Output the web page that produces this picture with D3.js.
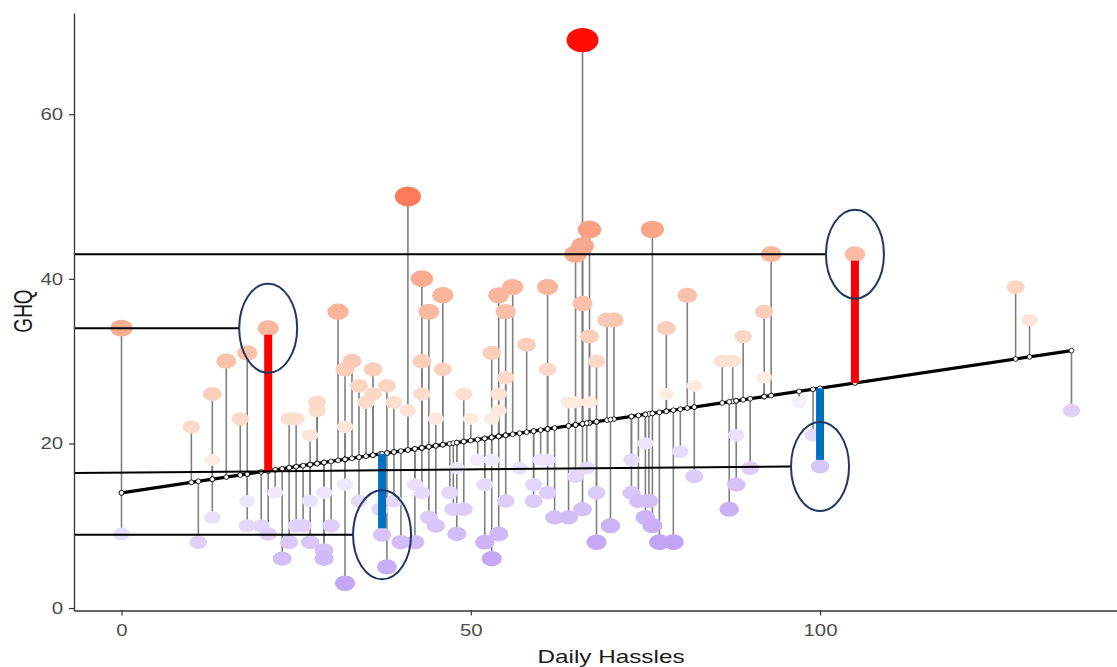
<!DOCTYPE html>
<html>
<head>
<meta charset="utf-8">
<script src="https://cdn.jsdelivr.net/npm/d3@7"></script>
<style>
  body { margin: 0; background: #fff; }
  text { font-family: "Liberation Sans", Arial, sans-serif; }
</style>
</head>
<body>
<svg id="chart" width="1117" height="667"></svg>
<script>
// Daily Hassles (x) and GHQ (y), one entry per person
const hassles = [
  0, 10, 13, 15, 17, 18, 21, 24, 25, 28, 28, 31,
  32, 33, 34, 35, 36, 36, 38, 39, 41, 41, 43, 43,
  43, 44, 46, 46, 49, 53, 54, 55, 56, 55, 54, 58,
  61, 61, 65, 66, 67, 66, 66, 67, 68, 69.5, 70.5, 76,
  78, 81, 86, 87.5, 89, 92, 93, 105, 128, 130,
  13, 27, 32, 45, 50, 53, 54, 64, 65, 67, 78, 82, 92, 97,
  0, 11, 13, 18, 18, 20, 21, 22, 23, 24, 25, 26,
  27, 27, 29, 29, 29, 30, 32, 32, 34, 37, 37.3, 38,
  39, 40, 42, 42, 43, 44, 45, 47, 47.5, 48, 48, 49,
  51, 52, 52, 53, 53, 54, 55, 57, 59, 59, 60, 61,
  61, 62, 64, 65, 66, 66.6, 68, 68, 70, 73, 75, 73,
  74, 75.5, 75, 76, 77, 79, 80, 82, 87, 88, 88, 90,
  99, 100, 136
];
const ghq = [
  34, 22, 26, 30, 23, 31, 34, 23, 23, 25, 24, 36,
  29, 30, 27, 25, 29, 26, 27, 25, 24, 50, 40, 30,
  26, 36, 38, 29, 26, 31, 38, 36, 39, 28, 26, 32,
  39, 29, 43, 44, 46, 69, 37, 33, 30, 35, 35, 46,
  34, 38, 30, 30, 33, 36, 43, 43, 39, 35,
  18, 21, 22, 23, 23, 23, 24, 25, 25, 25, 26, 27, 28, 25,
  9, 8, 11, 13, 10, 10, 9, 14, 6, 8, 10, 10,
  13, 8, 14, 7, 6, 10, 15, 3, 13, 12, 8.9, 5,
  13, 8, 15, 8, 14, 11, 10, 14, 12, 9, 17, 12,
  18, 15, 8, 18, 6, 9, 13, 17, 15, 13, 18, 18,
  14, 11, 11, 16, 12, 17, 14, 8, 10, 18, 20, 14,
  13, 13, 11, 10, 8, 8, 19, 16, 12, 15, 21, 17,
  21, 17.2, 24
];
const xTicks = [0, 50, 100];
const yTicks = [0, 20, 40, 60];

// fitted regression line GHQ = a + b * hassles
const fitIntercept = 14.0;
const fitSlope = 0.127;

// the four residuals picked out with bars, circles and guide lines
const markHassles = [21, 37.3, 100, 105];
const markGhq = [34, 8.9, 17.2, 43];
const markGuideStart = [34, 8.9, 16.4, 43];

const svg = d3.select("#chart");
const x = d3.scaleLinear().domain([-6.8, 142.8]).range([74, 1119]);
const y = d3.scaleLinear().domain([-0.3, 72.3]).range([610.5, 13]);
const fitted = h => fitIntercept + fitSlope * h;

const pts = hassles.map((h, i) => ({ h: h, g: ghq[i], f: fitted(h), r: ghq[i] - fitted(h) }));

const posColor = d3.scaleLinear()
  .domain([0, 8, 22, 31, 47])
  .range(["#fdf5f1", "#fbd6c5", "#f8a78a", "#fb7a5a", "#ff0000"])
  .interpolate(d3.interpolateLab).clamp(true);
const negColor = d3.scaleLinear()
  .domain([0, 4, 9, 16])
  .range(["#faf8fe", "#ebe3fb", "#d9c9f8", "#c1a2f5"])
  .interpolate(d3.interpolateLab).clamp(true);
const colorOf = r => r >= 0 ? posColor(r) : negColor(-r);
const sizeOf = d3.scaleLinear().domain([0, 47]).range([7.5, 16]);

// residual segments
svg.append("g").selectAll("line")
  .data(pts)
  .join("line")
  .attr("x1", d => x(d.h)).attr("x2", d => x(d.h))
  .attr("y1", d => y(d.g)).attr("y2", d => y(d.f))
  .attr("stroke", "#808080")
  .attr("stroke-width", 1.6);

// observed points, weakest first
svg.append("g").selectAll("ellipse")
  .data(pts.slice().sort((a, b) => Math.abs(a.r) - Math.abs(b.r)))
  .join("ellipse")
  .attr("cx", d => x(d.h))
  .attr("cy", d => y(d.g))
  .attr("rx", d => sizeOf(Math.abs(d.r)))
  .attr("ry", d => sizeOf(Math.abs(d.r)) * 0.76)
  .attr("fill", d => colorOf(d.r));

// regression line
const hExtent = d3.extent(hassles);
svg.append("line")
  .attr("x1", x(hExtent[0])).attr("y1", y(fitted(hExtent[0])))
  .attr("x2", x(hExtent[1])).attr("y2", y(fitted(hExtent[1])))
  .attr("stroke", "#000")
  .attr("stroke-width", 3.2);

// fitted values
svg.append("g").selectAll("circle")
  .data(pts)
  .join("circle")
  .attr("cx", d => x(d.h))
  .attr("cy", d => y(d.f))
  .attr("r", 2.4)
  .attr("fill", "#fff")
  .attr("stroke", "#000")
  .attr("stroke-width", 0.8);

// highlighted residual bars
const marks = markHassles.map((h, i) => ({ h: h, g: markGhq[i], g0: markGuideStart[i], f: fitted(h) }));
svg.append("g").selectAll("line")
  .data(marks)
  .join("line")
  .attr("x1", d => x(d.h)).attr("x2", d => x(d.h))
  .attr("y1", d => y(d.f))
  .attr("y2", d => y(d.g - Math.sign(d.g - d.f) * 0.8))
  .attr("stroke", d => d.g > d.f ? "#ff0000" : "#0070c0")
  .attr("stroke-width", 8);

// guide lines from the y axis
svg.append("g").selectAll("line")
  .data(marks)
  .join("line")
  .attr("x1", x.range()[0]).attr("y1", d => y(d.g0))
  .attr("x2", d => x(d.h) - 29).attr("y2", d => y(d.g))
  .attr("stroke", "#000")
  .attr("stroke-width", 2);

svg.append("g").selectAll("ellipse")
  .data(marks)
  .join("ellipse")
  .attr("cx", d => x(d.h))
  .attr("cy", d => y(d.g))
  .attr("rx", 29)
  .attr("ry", 44.5)
  .attr("fill", "none")
  .attr("stroke", "#1f3864")
  .attr("stroke-width", 2);

// axes
const yAxis = svg.append("g")
  .attr("transform", "translate(74,0)")
  .call(d3.axisLeft(y).tickValues(yTicks).tickSize(5).tickSizeOuter(0).tickPadding(4));
const xAxis = svg.append("g")
  .attr("transform", "translate(0,610.5)")
  .call(d3.axisBottom(x).tickValues(xTicks).tickSize(5).tickSizeOuter(0).tickPadding(8));

[xAxis, yAxis].forEach(ax => {
  ax.select(".domain").attr("stroke", "#333").attr("stroke-width", 1.3);
  ax.selectAll(".tick line").attr("stroke", "#333").attr("stroke-width", 1.2);
  ax.selectAll(".tick text")
    .attr("fill", "#4d4d4d")
    .style("font-size", "17px")
    .style("font-family", "'Liberation Sans', Arial, sans-serif")
    .attr("transform", "scale(1.2,1)");
});

svg.append("text")
  .attr("transform", "translate(611,663) scale(1.35,1)")
  .attr("text-anchor", "middle")
  .attr("fill", "#1a1a1a")
  .style("font-size", "18px")
  .text("Daily Hassles");

svg.append("text")
  .attr("transform", "translate(32,311) scale(1.35,1) rotate(-90)")
  .attr("text-anchor", "middle")
  .attr("fill", "#1a1a1a")
  .style("font-size", "19px")
  .text("GHQ");
</script>
</body>
</html>
